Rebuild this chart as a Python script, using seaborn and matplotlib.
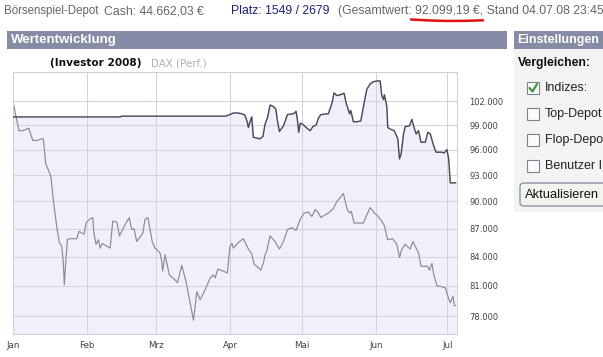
import matplotlib
matplotlib.use("Agg")
import matplotlib.pyplot as plt
import matplotlib.patches as mpatches
from matplotlib.ticker import FixedLocator, NullLocator, FuncFormatter
import numpy as np
import pandas as pd
import seaborn as sns

# ---------------- data (values in thousand EUR, x = days since 1 Jan 2008) ----------------
dax_day = [0, 1.3, 2.5, 4.1, 5.7, 6.6, 8.3, 9.9, 12.0, 12.7,
           13.7, 15.1, 15.9, 16.9, 18.3, 19.4, 20.4, 21.1, 21.5, 22.1,
           22.8, 23.6, 26.7, 27.7, 28.9, 29.8, 30.6, 32.0, 33.4, 33.9,
           34.8, 35.8, 36.5, 37.4, 40.7, 41.8, 43.5, 44.6, 46.9, 48.7,
           49.7, 50.7, 51.8, 54.4, 55.3, 56.5, 57.4, 58.4, 59.5, 61.6,
           62.3, 62.7, 63.7, 65.5, 67.9, 68.9, 70.7, 72.5, 74.2, 75.6,
           77.0, 78.4, 80.5, 82.6, 83.9, 84.7, 85.8, 88.1, 89.8, 90.9,
           91.7, 92.3, 94.4, 96.5, 98.6, 100.0, 101.0, 102.1, 103.8, 104.9,
           105.6, 106.3, 107.7, 109.8, 111.6, 113.3, 115.0, 116.8, 118.6, 120.3,
           122.0, 123.8, 125.2, 126.6, 128.0, 129.0, 130.1, 132.1, 134.2, 135.7,
           137.0, 138.4, 139.9, 141.0, 141.7, 142.9, 144.3, 146.8, 147.9, 149.6,
           151.4, 153.1, 154.5, 155.6, 156.9, 159.1, 160.8, 161.9, 162.9, 164.3,
           166.4, 167.5, 168.5, 169.9, 170.9, 173.6, 174.5, 175.5, 176.2, 177.6,
           179.7, 181.1, 182.5, 183.2, 184.3, 184.9, 185.5]
dax_val = [102.0, 100.0, 98.3, 98.3, 98.5, 98.6, 97.1, 97.1, 97.3, 97.3,
           94.35, 93.4, 92.8, 90.1, 87.25, 85.5, 85.1, 83.35, 81.1, 83.5,
           85.8, 85.9, 85.9, 86.7, 86.5, 86.4, 87.6, 88.0, 88.2, 86.5,
           85.3, 85.8, 84.9, 85.4, 84.9, 87.8, 87.7, 86.2, 87.4, 88.2,
           86.9, 87.0, 85.6, 86.5, 88.0, 88.2, 86.9, 85.5, 84.9, 84.4,
           83.5, 82.5, 84.2, 82.1, 81.6, 81.3, 83.1, 81.4, 79.3, 77.6,
           80.4, 79.6, 80.6, 81.8, 82.1, 81.8, 82.7, 82.5, 82.3, 85.1,
           85.4, 84.9, 85.5, 85.9, 84.8, 84.3, 83.2, 83.0, 82.6, 83.35,
           84.2, 84.6, 86.2, 85.6, 84.8, 85.6, 86.9, 87.1, 86.8, 88.0,
           88.7, 88.8, 88.3, 89.1, 88.7, 88.2, 88.4, 88.7, 89.2, 90.0,
           90.4, 90.9, 89.2, 88.7, 88.9, 87.6, 87.6, 87.6, 88.3, 89.3,
           88.7, 88.3, 87.8, 87.3, 85.8, 85.9, 85.3, 83.9, 84.8, 85.3,
           84.8, 85.6, 85.1, 84.4, 83.0, 83.0, 82.6, 83.3, 82.2, 81.0,
           80.9, 80.8, 79.7, 79.3, 79.95, 79.05, 79.0]

inv_day = [0, 45, 45.5, 89, 90.9, 92.3, 93.8, 95.9, 97.2, 98.2,
           98.6, 99.6, 100.0, 100.7, 102.1, 103.5, 104.7, 105.6, 106.7, 107.7,
           109.1, 110.1, 110.8, 111.6, 113.3, 115.0, 117.5, 118.6, 119.2, 119.7,
           120.3, 121.4, 122.8, 124.5, 125.6, 127.0, 128.0, 129.0, 132.1, 133.6,
           134.5, 135.7, 137.0, 138.7, 139.6, 141.0, 141.5, 142.6, 144.0, 145.7,
           146.8, 148.2, 149.6, 151.0, 152.7, 153.8, 154.5, 155.2, 155.6, 156.6,
           157.0, 158.0, 159.7, 160.5, 161.2, 161.9, 162.6, 163.6, 164.3, 166.1,
           167.1, 168.1, 168.9, 169.9, 170.9, 172.7, 173.8, 174.8, 176.2, 177.2,
           179.7, 180.6, 181.8, 182.5, 183.2, 185.5]
inv_val = [100.0, 100.0, 100.1, 100.1, 100.3, 100.5, 100.5, 100.4, 100.2, 99.3,
           98.7, 99.7, 100.0, 97.5, 97.4, 97.3, 97.6, 99.1, 100.0, 101.5,
           101.3, 101.0, 99.5, 98.2, 98.9, 100.3, 100.4, 100.7, 99.5, 98.1,
           99.2, 99.1, 98.7, 98.3, 98.8, 99.0, 99.9, 100.3, 100.4, 101.7,
           103.05, 102.7, 102.8, 103.0, 101.7, 100.4, 100.8, 99.4, 99.4, 99.5,
           101.3, 103.5, 104.2, 104.5, 104.6, 104.6, 102.7, 102.2, 102.8, 101.3,
           98.7, 98.5, 98.3, 97.8, 97.3, 94.9, 95.5, 97.9, 98.8, 98.9,
           99.7, 98.6, 97.9, 98.3, 96.9, 96.9, 98.1, 97.9, 96.5, 95.7,
           95.7, 95.6, 96.0, 94.9, 92.1, 92.1]

month_starts = ["2008-01-01", "2008-02-01", "2008-03-01", "2008-04-01",
                "2008-05-01", "2008-06-01", "2008-07-01"]
month_labels = ["Jan", "Feb", "Mrz", "Apr", "Mai", "Jun", "Jul"]
y_ticks = [78, 81, 84, 87, 90, 93, 96, 99, 102]

start = pd.Timestamp("2008-01-01")
dax = pd.DataFrame({"date": start + pd.to_timedelta(dax_day, unit="D"), "value": dax_val})
inv = pd.DataFrame({"date": start + pd.to_timedelta(inv_day, unit="D"), "value": inv_val})

# ---------------- figure ----------------
sns.set_style("white")
plt.rcParams["font.family"] = ["DejaVu Sans"]
W, H = 603, 357
fig = plt.figure(figsize=(W / 100, H / 100), dpi=100)
fig.patch.set_facecolor("white")

def fx(x):
    return x / W

def fy(y):
    return 1 - y / H

# plot axes
L, R, T, B = 13, 457, 72, 334
ax = fig.add_axes([fx(L), fy(B), (R - L) / W, (B - T) / H])
ax.set_facecolor("white")
ax.set_yscale("log")
ylo, yhi = 76.27, 105.77
ax.set_ylim(ylo, yhi)
ax.set_xlim(start, start + pd.Timedelta(days=186))

ax.fill_between(inv["date"], inv["value"], ylo, color="#f0f0fb", zorder=0.3, linewidth=0)
sns.lineplot(data=dax, x="date", y="value", ax=ax, color="#8a8a9a", linewidth=0.85, zorder=2)
sns.lineplot(data=inv, x="date", y="value", ax=ax, color="#4b4b58", linewidth=1.05, zorder=3)

ax.set_axisbelow(True)
ax.yaxis.set_major_locator(FixedLocator(y_ticks))
ax.yaxis.set_minor_locator(NullLocator())
ax.yaxis.set_major_formatter(FuncFormatter(lambda v, p: f"{v*1000:,.0f}".replace(",", ".")))
ax.yaxis.tick_right()
ax.tick_params(axis="y", length=0, pad=9, labelsize=6, labelcolor="#444444")
ax.set_xticks(pd.to_datetime(month_starts))
ax.set_xticklabels(month_labels)
ax.xaxis.set_minor_locator(NullLocator())
ax.tick_params(axis="x", length=3.2, width=0.9, color="#222222", pad=1.5,
               labelsize=6.3, labelcolor="#444444", direction="out")
ax.grid(True, color="#d3d3df", linewidth=0.75)
for s in ax.spines.values():
    s.set_color("#d0d0d8")
    s.set_linewidth(0.75)
ax.set_xlabel("")
ax.set_ylabel("")

# legend texts
fig.text(fx(50), fy(63), "(Investor 2008)", fontsize=7.6, fontweight="bold", color="#111111",
         va="center", ha="left")
fig.text(fx(151), fy(63), "DAX (Perf.)", fontsize=7.4, color="#b0b0b0", va="center", ha="left")

# ---------------- page elements ----------------
top_y = 11
top_fs = 8.8
fig.text(fx(4), fy(top_y), "Börsenspiel-Depot", family="Liberation Sans", fontsize=8.3,
         color="#666666", va="center")
fig.text(fx(104), fy(top_y), "Cash: 44.662,03 €", family="Liberation Sans", fontsize=top_fs,
         color="#666666", va="center")
fig.text(fx(231), fy(top_y), "Platz: 1549 / 2679", family="Liberation Sans", fontsize=top_fs,
         color="#1a237e", va="center")
fig.text(fx(338), fy(top_y), "(Gesamtwert: 92.099,19 €, Stand 04.07.08 23:45", family="Liberation Sans",
         fontsize=top_fs, color="#666666", va="center")
# red underline
ux = np.linspace(411, 483, 30)
uy = 19.5 + 1.0 * np.sin((ux - 411) / 72 * np.pi) + (ux - 411) / 72 * 0.8
fig.add_artist(plt.Line2D(fx(ux), fy(uy), color="#dd1111", linewidth=1.8))

bar_col = "#878ca6"
fig.add_artist(mpatches.Rectangle((fx(7), fy(49)), (507 - 7) / W, (49 - 31) / H,
                                  facecolor=bar_col, edgecolor="none"))
fig.text(fx(11), fy(40), "Wertentwicklung", family="Liberation Sans", fontsize=9.5,
         fontweight="bold", color="white", va="center")

# right panel
fig.add_artist(mpatches.Rectangle((fx(514), fy(212)), (603 - 514) / W, (212 - 49) / H,
                                  facecolor="#f3f3f3", edgecolor="none"))
fig.add_artist(mpatches.Rectangle((fx(514), fy(49)), (603 - 514) / W, (49 - 31) / H,
                                  facecolor=bar_col, edgecolor="none"))
fig.text(fx(517), fy(40), "Einstellungen", family="Liberation Sans", fontsize=9,
         fontweight="bold", color="white", va="center")
fig.text(fx(518), fy(63), "Vergleichen:", family="Liberation Sans", fontsize=8.8,
         fontweight="bold", color="#111111", va="center")
labels = ["Indizes:", "Top-Depot", "Flop-Depot", "Benutzer ID"]
for i, lab in enumerate(labels):
    cy = 88 + 26 * i
    fig.add_artist(mpatches.Rectangle((fx(527), fy(cy + 6)), 12 / W, 12 / H,
                                      facecolor="#fbfbfb", edgecolor="#7a8594", linewidth=0.8))
    fig.text(fx(545), fy(cy), lab, family="Liberation Sans", fontsize=9, color="#222222",
             va="center")
# check mark
fig.add_artist(plt.Line2D([fx(529.5), fx(532.5), fx(537)], [fy(88), fy(91.5), fy(84)],
                          color="#3a9a3a", linewidth=1.6))
# button
fig.add_artist(mpatches.FancyBboxPatch((fx(520), fy(206)), (620 - 520) / W, (206 - 183) / H,
                                       boxstyle="round,pad=0,rounding_size=0.008",
                                       facecolor="#f4f4ef", edgecolor="#7d8b99", linewidth=0.9))
fig.text(fx(525), fy(195), "Aktualisieren", family="Liberation Sans", fontsize=9.3,
         color="#111111", va="center")

fig.savefig("out.png", dpi=100)
